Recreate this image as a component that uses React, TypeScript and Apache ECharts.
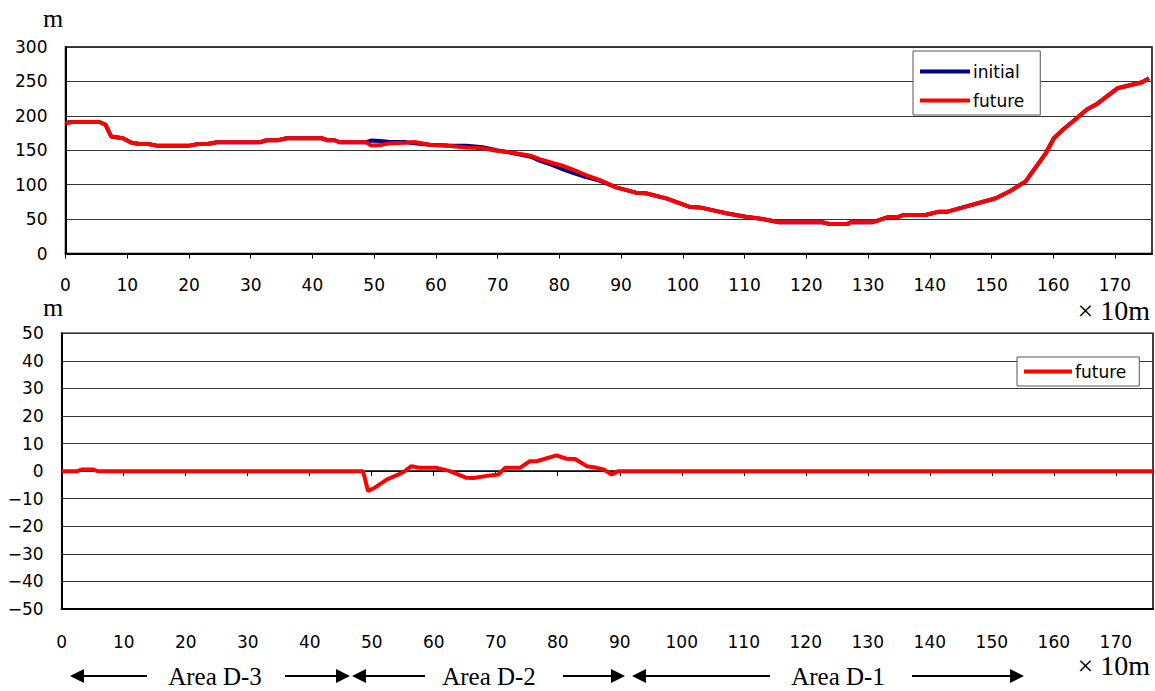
import React, { useEffect, useRef } from "react";
import * as echarts from "echarts";

// ---- data (x in units of 10 m) ----
const distance = [0, 1, 5.5, 6.5, 7.4, 9.3, 10.7, 12, 13.4, 14.8, 20.1, 21.5, 23, 24.5, 31.5, 32.6, 34.4, 35.8, 41.5, 42.5, 43.6, 44.4, 48.7, 49.5, 51, 52.5, 55, 56.5, 59, 62, 65, 67.6, 69.8, 72.4, 75.4, 76.8, 78.9, 80.5, 82.2, 84.3, 86.5, 89.2, 92.4, 94, 97.3, 101, 102.7, 104.8, 107, 110.2, 112.9, 115.6, 122.6, 123.7, 126.7, 127.2, 130.7, 133.1, 135, 135.8, 139.3, 141.5, 142.9, 150.7, 152.9, 155.5, 158.8, 160.1, 161.5, 163.6, 165.5, 167.1, 170.4, 174.4, 175.5];
const initialElev = [190, 191, 191, 187, 170, 167.5, 161, 159, 159, 156.7, 156.7, 159, 159, 161.6, 161.6, 164.5, 164.5, 167.4, 167.4, 164.5, 164.5, 161.6, 161.6, 164, 163.5, 162, 162, 160, 158, 157, 156.5, 154.5, 150, 146, 140.5, 135, 128.5, 122.5, 117, 111, 106, 96, 88.4, 87.5, 80, 68, 67, 63, 58.4, 53.5, 50, 45.3, 45.3, 43, 43, 45.3, 45.3, 52.6, 53.5, 56, 56, 60.8, 60.8, 80.2, 90, 104.4, 145.6, 167.4, 179.5, 195, 209.6, 217.3, 240, 248.8, 254.6];
const futureElev = [189, 191, 191, 187, 170, 167.5, 161, 159, 159, 156.7, 156.7, 159, 159, 161.6, 161.6, 164.5, 164.5, 167.4, 167.4, 164.5, 164.5, 161.6, 161.6, 157, 157.5, 160, 161, 162, 158, 156.7, 154, 153, 149.4, 146.5, 142, 137, 131.5, 127.5, 122, 114, 107, 96, 88.4, 87.5, 80, 68, 67, 63, 58.4, 53.5, 50, 45.3, 45.3, 43, 43, 45.3, 45.3, 52.6, 53.5, 56, 56, 60.8, 60.8, 80.2, 90, 104.4, 145.6, 167.4, 179.5, 195, 209.6, 217.3, 240, 248.8, 254.6];

const diffDistance = [0, 2.5, 3.2, 5, 5.8, 48.6, 49.4, 50.5, 52.4, 55.1, 56.4, 57.8, 60.5, 62.6, 65.3, 66.4, 68.3, 70.4, 71.5, 73.9, 75.5, 76.6, 79.8, 81.4, 82.8, 84.7, 86.3, 87.4, 88.7, 89.8, 176];
const diffValue = [0, 0, 0.6, 0.6, 0, 0, -7.2, -6, -3.1, -0.4, 1.8, 1.2, 1.2, 0, -2.4, -2.5, -1.8, -1.2, 1.2, 1.2, 3.6, 3.6, 5.7, 4.5, 4.4, 1.8, 1.2, 0.6, -1.2, 0, 0];

const xTicks = [0, 10, 20, 30, 40, 50, 60, 70, 80, 90, 100, 110, 120, 130, 140, 150, 160, 170];
const areaLabels = ["Area D-3", "Area D-2", "Area D-1"];

const SANS = "DejaVu Sans";
const SERIF = "Liberation Serif";

function arrow(tip: number, end: number, y: number): any[] {
  const dir = end > tip ? 1 : -1;
  const head = 14;
  return [
    {
      type: "line",
      shape: { x1: tip + dir * (head - 2), y1: y, x2: end, y2: y },
      style: { stroke: "#000", lineWidth: 2 },
    },
    {
      type: "polygon",
      shape: { points: [[tip, y], [tip + dir * head, y - 7], [tip + dir * head, y + 7]] },
      style: { fill: "#000" },
    },
  ];
}

export default function App() {
  const ref = useRef<HTMLDivElement>(null);
  useEffect(() => {
    if (!ref.current) return;
    const chart = echarts.init(ref.current, undefined, { renderer: "svg" });
    const labelStyle = { color: "#000", fontFamily: SANS, fontSize: 17 };
    const minusFmt = (v: number) => String(v).replace("-", "\u2212");
    const ay = 676;
    const areaFont = `25px "${SERIF}"`;
    const graphics: any[] = [
      { type: "text", left: 43, top: 5, style: { text: "m", font: `26px "${SERIF}"`, fill: "#000" } },
      { type: "text", left: 43, top: 294, style: { text: "m", font: `26px "${SERIF}"`, fill: "#000" } },
      { type: "text", right: 5, top: 296, style: { text: "× 10m", font: `28px "${SERIF}"`, fill: "#000" } },
      { type: "text", right: 5, top: 651, style: { text: "× 10m", font: `28px "${SERIF}"`, fill: "#000" } },
      ...arrow(70, 147, ay),
      ...arrow(350, 285, ay),
      ...arrow(352, 425, ay),
      ...arrow(625, 563, ay),
      ...arrow(632, 770, ay),
      ...arrow(1024, 912, ay),
      { type: "text", x: 215, y: ay, style: { text: areaLabels[0], font: areaFont, fill: "#000", align: "center", verticalAlign: "middle" } },
      { type: "text", x: 489, y: ay, style: { text: areaLabels[1], font: areaFont, fill: "#000", align: "center", verticalAlign: "middle" } },
      { type: "text", x: 838, y: ay, style: { text: areaLabels[2], font: areaFont, fill: "#000", align: "center", verticalAlign: "middle" } },
    ];
    const legendBase = {
      orient: "vertical",
      icon: "rect",
      itemWidth: 50,
      itemHeight: 4,
      backgroundColor: "#fff",
      borderColor: "#555",
      borderWidth: 1,
      borderRadius: 0,
      textStyle: { color: "#000", fontFamily: SANS, fontSize: 17, padding: [0, 0, 0, -2] },
    };
    const option: any = {
      animation: false,
      backgroundColor: "#fff",
      grid: [
        { left: 65.5, top: 47, width: 1086.5, height: 206.5, show: true, borderColor: "#000", borderWidth: 1.5, containLabel: false },
        { left: 61.7, top: 333.3, width: 1091.3, height: 275.7, show: true, borderColor: "#000", borderWidth: 1.5, containLabel: false },
      ],
      legend: [
        {
          ...legendBase,
          data: ["initial", "future"],
          left: 913,
          top: 51,
          itemGap: 12,
          padding: [12, 16, 6, 7],
        },
        {
          ...legendBase,
          data: ["future"],
          left: 1017,
          top: 357,
          itemWidth: 48,
          padding: [6, 13, 6, 7],
        },
      ],
      xAxis: [
        {
          type: "value", gridIndex: 0, min: 0, max: 176, interval: 10,
          splitLine: { show: false },
          axisLine: { show: true, lineStyle: { color: "#000", width: 2 } },
          axisTick: { show: true, length: 5, inside: false, lineStyle: { color: "#000" }, customValues: xTicks },
          axisLabel: { ...labelStyle, margin: 23, customValues: xTicks },
        },
        {
          type: "value", gridIndex: 1, min: 0, max: 176, interval: 10,
          position: "bottom",
          splitLine: { show: false },
          axisLine: { show: true, onZero: false, lineStyle: { color: "#000", width: 2 } },
          axisTick: { show: false },
          axisLabel: { ...labelStyle, margin: 24, customValues: xTicks },
        },
        {
          type: "value", gridIndex: 1, min: 0, max: 176, interval: 10,
          position: "bottom",
          splitLine: { show: false },
          axisLine: { show: true, onZero: true, lineStyle: { color: "#000", width: 1.5 } },
          axisTick: { show: true, length: 5, inside: false, lineStyle: { color: "#000" }, customValues: xTicks },
          axisLabel: { show: false },
        },
      ],
      yAxis: [
        {
          type: "value", gridIndex: 0, min: 0, max: 300, interval: 50,
          splitLine: { show: true, lineStyle: { color: "#333", width: 1 } },
          axisLine: { show: true, lineStyle: { color: "#000", width: 2 } },
          axisTick: { show: false },
          axisLabel: { ...labelStyle, margin: 18 },
        },
        {
          type: "value", gridIndex: 1, min: -50, max: 50, interval: 10,
          splitLine: { show: true, lineStyle: { color: "#333", width: 1 } },
          axisLine: { show: true, lineStyle: { color: "#000", width: 2 } },
          axisTick: { show: false },
          axisLabel: { ...labelStyle, margin: 18, formatter: minusFmt },
        },
      ],
      series: [
        {
          name: "initial", type: "line", xAxisIndex: 0, yAxisIndex: 0,
          data: distance.map((d, i) => [d, initialElev[i]]),
          symbol: "none", showSymbol: false,
          lineStyle: { color: "#000080", width: 4 }, itemStyle: { color: "#000080" },
        },
        {
          name: "future", type: "line", xAxisIndex: 0, yAxisIndex: 0,
          data: distance.map((d, i) => [d, futureElev[i]]),
          symbol: "none", showSymbol: false,
          lineStyle: { color: "#ff0000", width: 4 }, itemStyle: { color: "#ff0000" },
        },
        {
          name: "future", type: "line", xAxisIndex: 2, yAxisIndex: 1,
          data: diffDistance.map((d, i) => [d, diffValue[i]]),
          symbol: "none", showSymbol: false,
          lineStyle: { color: "#ff0000", width: 4 }, itemStyle: { color: "#ff0000" },
        },
      ],
      graphic: graphics,
    };
    chart.setOption(option);
    return () => chart.dispose();
  }, []);
  return <div ref={ref} style={{ position: "absolute", left: 0, top: 0, width: 1155, height: 691 }} />;
}
